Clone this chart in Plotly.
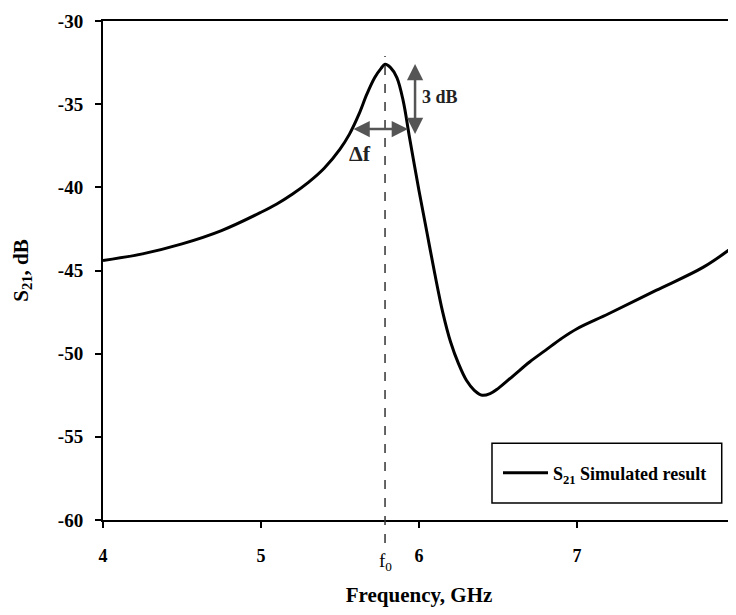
import plotly.graph_objects as go

# Data
freq_ghz = [4.0, 4.25, 4.5, 4.75, 5.0, 5.1, 5.2, 5.3, 5.4, 5.5, 5.56, 5.62, 5.67, 5.72, 5.76, 5.785,
            5.82, 5.86, 5.9, 5.94, 6.0, 6.05, 6.1, 6.15, 6.2, 6.25, 6.3, 6.35, 6.4,
            6.45, 6.5, 6.6, 6.7, 6.8, 6.9, 7.0, 7.2, 7.5, 7.8, 8.0]
s21_db = [-44.4, -44.0, -43.4, -42.6, -41.5, -41.0, -40.4, -39.7, -38.85, -37.7, -36.8, -35.6, -34.4, -33.4, -32.85, -32.6,
          -32.8, -33.4, -34.8, -37.0, -40.2, -42.7, -45.2, -47.5, -49.3, -50.6, -51.6, -52.2, -52.5,
          -52.4, -52.1, -51.3, -50.5, -49.8, -49.1, -48.5, -47.6, -46.2, -44.8, -43.5]

f0 = 5.785
x_ticks = [4, 5, 6, 7, 8]
y_ticks = [-30, -35, -40, -45, -50, -55, -60]
bw_left, bw_right, bw_level = 5.576, 5.93, -36.5
db_x, db_top, db_bottom = 5.975, -32.5, -36.8

FONT = "Liberation Serif"

fig = go.Figure()
fig.add_trace(go.Scatter(
    x=freq_ghz, y=s21_db, mode="lines",
    line=dict(color="black", width=3, shape="spline", smoothing=1.0),
    name="<b>S<sub>21</sub> Simulated result</b>",
))

# f0 dashed marker line
fig.add_shape(type="line", xref="x", yref="paper", x0=f0, x1=f0, y0=-0.046, y1=0.93,
              line=dict(color="#333", width=1.5, dash="dash"), layer="above")

# legend frame
fig.add_shape(type="rect", xref="paper", yref="paper", x0=0.6155, x1=0.979, y0=0.034, y1=0.154,
              line=dict(color="black", width=1.5), fillcolor="white", layer="below")

arrow_color = "#555555"
# delta-f double arrow
fig.add_annotation(x=bw_right, y=bw_level, ax=bw_left, ay=bw_level, xref="x", yref="y",
                   axref="x", ayref="y", text="", showarrow=True, arrowhead=2, startarrowhead=2,
                   arrowside="end+start", arrowsize=1.3, startarrowsize=1.3, arrowwidth=2.5,
                   arrowcolor=arrow_color)
# 3 dB double arrow
fig.add_annotation(x=db_x, y=db_bottom, ax=db_x, ay=db_top, xref="x", yref="y",
                   axref="x", ayref="y", text="", showarrow=True, arrowhead=2, startarrowhead=2,
                   arrowside="end+start", arrowsize=1.3, startarrowsize=1.3, arrowwidth=2.5,
                   arrowcolor=arrow_color)
fig.add_annotation(x=db_x, y=-34.57, xref="x", yref="y", text="<b>3 dB</b>",
                   showarrow=False, xanchor="left", xshift=5,
                   font=dict(family=FONT, size=18, color="#222"))
fig.add_annotation(x=5.627, y=-37.95, xref="x", yref="y",
                   text="<b>Δf</b>", showarrow=False,
                   font=dict(family=FONT, size=22, color="#222"))
fig.add_annotation(x=f0, y=-0.056, xref="x", yref="paper", text="f<sub>0</sub>",
                   showarrow=False, yanchor="top",
                   font=dict(family=FONT, size=19, color="black"))

fig.update_layout(
    width=728, height=599,
    margin=dict(l=95, r=1, t=13, b=87, autoexpand=False),
    paper_bgcolor="white", plot_bgcolor="white",
    font=dict(family=FONT, size=16, color="black"),
    showlegend=True,
    legend=dict(x=0.625, y=0.094, xanchor="left", yanchor="middle",
                borderwidth=0, bgcolor="rgba(0,0,0,0)", itemwidth=45,
                font=dict(family=FONT, size=18, color="black")),
    xaxis=dict(range=[4, 8], tickvals=x_ticks, ticktext=[f"<b>{v}</b>" for v in x_ticks],
               showgrid=False, zeroline=False, showline=True, linecolor="black", linewidth=2,
               mirror=True, ticks="outside", ticklen=6, tickwidth=2, tickcolor="black",
               tickfont=dict(family=FONT, size=18), ticklabelstandoff=12,
               title=dict(text="<b>Frequency, GHz</b>", font=dict(family=FONT, size=21), standoff=27)),
    yaxis=dict(range=[-60, -30], tickvals=y_ticks, ticktext=[f"<b>{v}</b>" for v in y_ticks],
               showgrid=False, zeroline=False, showline=True, linecolor="black", linewidth=2,
               mirror=True, ticks="outside", ticklen=6, tickwidth=2, tickcolor="black",
               tickfont=dict(family=FONT, size=19), ticklabelstandoff=8,
               title=dict(text="<b>S<sub>21</sub>, dB</b>", font=dict(family=FONT, size=21), standoff=24)),
)

fig.write_html("out.html")
